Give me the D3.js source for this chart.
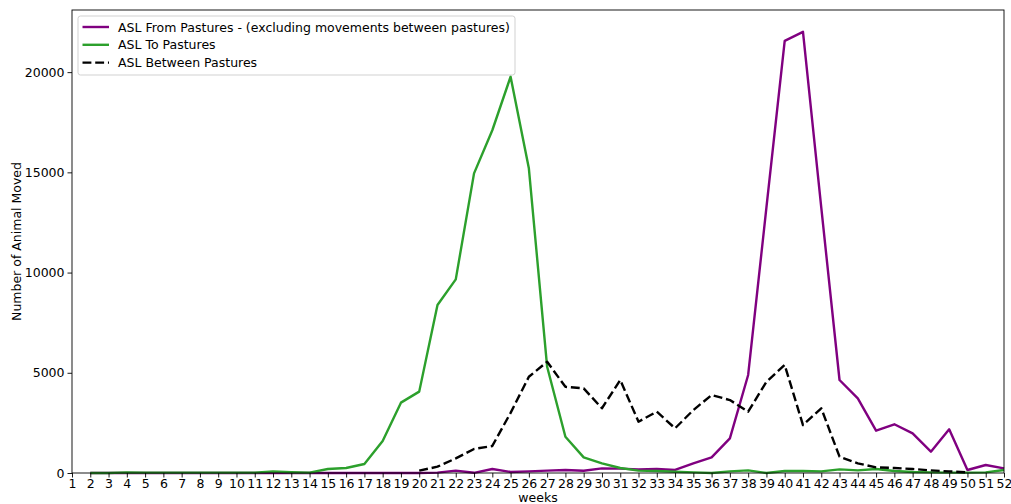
<!DOCTYPE html>
<html>
<head>
<meta charset="utf-8">
<script src="https://cdn.jsdelivr.net/npm/d3@7"></script>
<style>
  html, body { margin: 0; padding: 0; background: #fff; }
  svg { display: block; font-family: "DejaVu Sans", sans-serif; }
</style>
</head>
<body>
<svg id="chart" width="1011" height="504"></svg>
<script>
// Weekly animal movements (ASL) to, from and between pastures
const weeks = d3.range(1, 53);
const xTickLabels = weeks.map(String);
const yTickValues = [0, 5000, 10000, 15000, 20000];

// Weeks 2..52
const fromWeeks = d3.range(2, 53);
const fromPastures = [
  0, 0, 0, 0, 0, 0, 0, 0, 0, 0, 0, 0,          // 2-13
  0, 0, 0, 0, 0, 0, 0, 20, 120, 10,           // 14-23
  200, 50, 80, 120, 150, 115, 230, 220, 180, 200, // 24-33
  150, 480, 780, 1730, 4890, 13250, 21560, 22010, 13250, 4640, // 34-43
  3720, 2110, 2430, 1980, 1065, 2180, 150, 400, 230 // 44-52
];

// Weeks 2..52
const toWeeks = d3.range(2, 53);
const toPastures = [
  0, 0, 30, 20, 20, 20, 20, 20, 20, 20, 80, 40, // 2-13
  20, 200, 250, 450, 1600, 3510, 4060, 8380, 9660, 14950, // 14-23
  17100, 19770, 15200, 5300, 1810, 780, 480, 250, 120, 100, // 24-33
  60, 30, 0, 80, 130, 0, 100, 100, 80, 180, // 34-43
  130, 200, 100, 50, 30, 20, 20, 30, 150 // 44-52
];

// Weeks 20..50
const betweenWeeks = d3.range(20, 51);
const betweenPastures = [
  115, 315, 730, 1200, 1350, 3000, 4800, 5550, 4300, 4220, // 20-29
  3230, 4640, 2560, 3060, 2230, 3140, 3890, 3640, 3060, 4550, // 30-39
  5390, 2390, 3230, 815, 480, 280, 250, 200, 130, 80, 30 // 40-50
];

const seriesNames = [
  "ASL From Pastures - (excluding movements between pastures)",
  "ASL To Pastures",
  "ASL Between Pastures"
];

const W = 1011, H = 504;
const margin = { left: 72, right: 7, top: 10, bottom: 31 };
const plotW = W - margin.left - margin.right;
const plotH = H - margin.top - margin.bottom;

const svg = d3.select("#chart");
const g = svg.append("g").attr("transform", `translate(${margin.left},${margin.top})`);

const x = d3.scaleLinear().domain([1, 52]).range([0, plotW]);
const y = d3.scaleLinear().domain([0, 23100]).range([plotH, 0]);

const fontSize = 12.5;
const lw = 2.4;

const series = [
  { name: seriesNames[0], xs: fromWeeks, ys: fromPastures, color: "#800080", dash: null },
  { name: seriesNames[1], xs: toWeeks, ys: toPastures, color: "#2ca02c", dash: null },
  { name: seriesNames[2], xs: betweenWeeks, ys: betweenPastures, color: "#000000", dash: `${3.7 * lw},${1.6 * lw}` }
];

const line = d3.line().x(d => x(d[0])).y(d => y(d[1]));

const plot = g.append("g");
series.forEach(s => {
  plot.append("path")
    .datum(s.xs.map((w, i) => [w, s.ys[i]]))
    .attr("d", line)
    .attr("fill", "none")
    .attr("stroke", s.color)
    .attr("stroke-width", lw)
    .attr("stroke-linejoin", "round")
    .attr("stroke-dasharray", s.dash);
});

// Axes
const xAxis = d3.axisBottom(x).tickValues(weeks).tickFormat((d, i) => xTickLabels[i]).tickSizeOuter(0).tickSize(4.5).tickPadding(1.5);
const yAxis = d3.axisLeft(y).tickValues(yTickValues).tickFormat(d3.format("d")).tickSizeOuter(0).tickSize(4.5).tickPadding(3);

const gx = g.append("g").attr("transform", `translate(0,${plotH})`).call(xAxis);
const gy = g.append("g").call(yAxis);
[gx, gy].forEach(a => {
  a.select(".domain").remove();
  a.selectAll("text").attr("font-size", fontSize).attr("fill", "#000").attr("font-family", "DejaVu Sans, sans-serif");
  a.selectAll("line").attr("stroke", "#000").attr("stroke-width", 0.9);
});

// Frame
g.append("rect")
  .attr("x", 0).attr("y", 0).attr("width", plotW).attr("height", plotH)
  .attr("fill", "none").attr("stroke", "#000").attr("stroke-width", 0.9);

// Axis titles
svg.append("text")
  .attr("x", margin.left + x(1 + 51 * 0.5)).attr("y", 501.5)
  .attr("text-anchor", "middle").attr("font-size", fontSize)
  .text("weeks");

svg.append("text")
  .attr("transform", `translate(21,${margin.top + plotH / 2}) rotate(-90)`)
  .attr("text-anchor", "middle").attr("font-size", fontSize)
  .text("Number of Animal Moved");

// Legend
const leg = g.append("g").attr("transform", "translate(6,6)");
leg.append("rect")
  .attr("x", 0).attr("y", 0).attr("width", 437).attr("height", 59)
  .attr("rx", 2.5).attr("fill", "#fff").attr("fill-opacity", 0.8)
  .attr("stroke", "#cccccc").attr("stroke-width", 0.9);
series.forEach((s, i) => {
  const cy = 11 + i * 17.8;
  leg.append("line")
    .attr("x1", 4.5).attr("x2", 31).attr("y1", cy).attr("y2", cy)
    .attr("stroke", s.color).attr("stroke-width", lw)
    .attr("stroke-dasharray", s.dash);
  leg.append("text")
    .attr("x", 40).attr("y", cy).attr("dy", "0.36em")
    .attr("font-size", fontSize)
    .text(s.name);
});
</script>
</body>
</html>
